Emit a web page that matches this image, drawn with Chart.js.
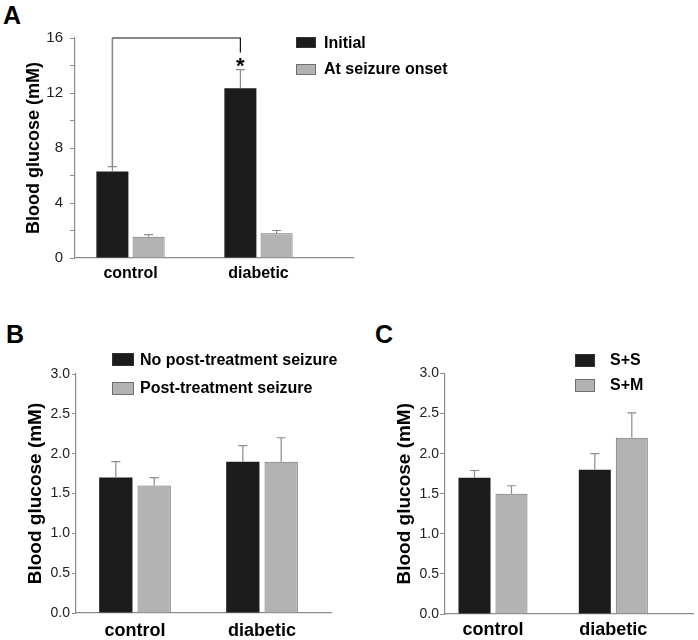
<!DOCTYPE html>
<html><head><meta charset="utf-8">
<script src="https://cdn.jsdelivr.net/npm/chart.js@4.4.0/dist/chart.umd.min.js"></script>
<style>
html,body{margin:0;padding:0;background:#fff;}
body{width:698px;height:640px;position:relative;overflow:hidden;font-family:"Liberation Sans",Arial,sans-serif;}
.cv{position:absolute;}
.panel{position:absolute;font-weight:bold;font-size:25px;color:#000;line-height:1;}
.leg{position:absolute;height:20px;display:flex;align-items:center;font-weight:bold;font-size:16px;color:#000;white-space:nowrap;}
.leg .box{box-sizing:border-box;flex:none;}
</style></head><body>
<div class="panel" style="left:3px;top:3px;">A</div>
<div class="panel" style="left:6px;top:322px;">B</div>
<div class="panel" style="left:375px;top:322px;">C</div>
<canvas id="ca" class="cv" width="360" height="295" style="left:0;top:0;"></canvas>
<canvas id="cb" class="cv" width="360" height="340" style="left:0;top:300px;"></canvas>
<canvas id="cc" class="cv" width="338" height="340" style="left:360px;top:300px;"></canvas>
<div id="legends"></div>
<script>
// ---------- data ----------
const categories = ['control', 'diabetic'];
const yTitle = 'Blood glucose (mM)';

// Panel A
const aSeries = ['Initial', 'At seizure onset'];
const aInitial = [6.3, 12.35];
const aInitialErr = [0.35, 1.35];
const aOnset = [1.55, 1.8];
const aOnsetErr = [0.15, 0.2];
const aYTicks = [0, 2, 4, 6, 8, 10, 12, 14, 16];
const aYLabels = [0, 4, 8, 12, 16];
const aSigMark = '*';
const aSigTop = 16;
const aSigRightEnd = 14.95;
const aSigStarAt = 13.45;

// Panel B
const bSeries = ['No post-treatment seizure', 'Post-treatment seizure'];
const bNoPost = [1.7, 1.9];
const bNoPostErr = [0.2, 0.2];
const bPost = [1.6, 1.9];
const bPostErr = [0.1, 0.3];

// Panel C
const cSeries = ['S+S', 'S+M'];
const cSS = [1.7, 1.8];
const cSSErr = [0.09, 0.2];
const cSM = [1.5, 2.2];
const cSMErr = [0.1, 0.31];

const bcYTicks = [0, 0.5, 1.0, 1.5, 2.0, 2.5, 3.0];

// ---------- styles ----------
const DARK = '#1c1c1c', DARK_BORDER = '#1c1c1c';
const LIGHT = '#b3b3b3', LIGHT_BORDER = '#6f6f6f';
const AXIS = '#8c8c8c', ERR = '#8c8c8c';
const FONT = "'Liberation Sans', Arial, sans-serif";
Chart.defaults.font.family = FONT;

const errorBars = {
  id: 'errorBars',
  afterDatasetsDraw(chart, args, opts) {
    const ctx = chart.ctx, ys = chart.scales.y;
    chart.data.datasets.forEach((ds, i) => {
      const meta = chart.getDatasetMeta(i);
      meta.data.forEach((el, j) => {
        const top = ys.getPixelForValue(ds.data[j].y + ds.errors[j]);
        ctx.save();
        ctx.strokeStyle = ERR;
        ctx.lineWidth = 1.2;
        ctx.beginPath();
        ctx.moveTo(el.x, el.y);
        ctx.lineTo(el.x, top);
        ctx.moveTo(el.x - 4.5, top);
        ctx.lineTo(el.x + 4.5, top);
        ctx.stroke();
        ctx.restore();
      });
    });
  }
};

const sigBracket = {
  id: 'sigBracket',
  afterDatasetsDraw(chart) {
    const ctx = chart.ctx, ys = chart.scales.y;
    const meta = chart.getDatasetMeta(0);
    const x1 = meta.data[0].x, x2 = meta.data[1].x;
    const yT = ys.getPixelForValue(aSigTop);
    const yL = ys.getPixelForValue(aInitial[0] + aInitialErr[0]);
    const yR = ys.getPixelForValue(aSigRightEnd);
    ctx.save();
    ctx.strokeStyle = '#8c8c8c';
    ctx.lineWidth = 1.6;
    ctx.beginPath(); ctx.moveTo(x1, yL); ctx.lineTo(x1, yT); ctx.stroke();
    ctx.strokeStyle = '#111';
    ctx.lineWidth = 1.2;
    ctx.beginPath(); ctx.moveTo(x1, yT); ctx.lineTo(x2, yT); ctx.lineTo(x2, yR); ctx.stroke();
    ctx.fillStyle = '#000';
    ctx.font = 'bold 22px ' + FONT;
    ctx.textAlign = 'center';
    ctx.textBaseline = 'alphabetic';
    ctx.fillText(aSigMark, x2, ys.getPixelForValue(aSigStarAt));
    ctx.restore();
  }
};

function makeChart(id, p) {
  const datasets = p.series.map((name, i) => ({
    label: name,
    data: p.values[i].map((v, j) => ({ x: j, y: v })),
    errors: p.errs[i],
    backgroundColor: i === 0 ? DARK : LIGHT,
    borderColor: i === 0 ? DARK_BORDER : LIGHT_BORDER,
    borderWidth: i === 0 ? 0 : 1,
    categoryPercentage: p.catPct,
    barPercentage: p.barPct
  }));
  return new Chart(document.getElementById(id), {
    type: 'bar',
    data: { datasets },
    options: {
      responsive: false,
      animation: false,
      devicePixelRatio: 1,
      layout: { padding: p.padding },
      plugins: { legend: { display: false }, tooltip: { enabled: false } },
      scales: {
        x: {
          type: 'linear',
          offset: false,
          min: p.xMin, max: p.xMax,
          afterBuildTicks: s => { s.ticks = categories.map((c, i) => ({ value: i })); },
          afterFit: s => { s.height = p.xHeight; s.paddingLeft = 0; s.paddingRight = 0; },
          grid: { display: false, offset: false, drawTicks: false },
          border: { display: true, color: AXIS, width: 1.2 },
          ticks: {
            autoSkip: false, maxRotation: 0,
            padding: p.xPad,
            color: '#000',
            font: { size: p.xFont, weight: 'bold' },
            callback: v => categories[v] !== undefined ? categories[v] : ''
          }
        },
        y: {
          min: 0, max: p.yTicks[p.yTicks.length - 1],
          afterBuildTicks: s => { s.ticks = p.yTicks.map(v => ({ value: v })); },
          afterFit: s => { s.width = p.yWidth; s.paddingTop = 0; s.paddingBottom = 0; },
          grid: { display: true, drawOnChartArea: false, drawTicks: true, tickLength: p.tickLen, color: AXIS, lineWidth: 1 },
          border: { display: true, color: AXIS, width: 1.2 },
          ticks: {
            padding: p.tickPad,
            color: '#222',
            font: { size: p.yFont },
            callback: v => p.yLabels ? (p.yLabels.includes(v) ? String(v) : '') : v.toFixed(1)
          },
          title: {
            display: true, text: yTitle, color: '#000',
            font: { size: p.titleSize, weight: 'bold' },
            padding: { top: p.titlePad, bottom: 0 }
          }
        }
      }
    },
    plugins: p.plugins
  });
}

makeChart('ca', {
  series: aSeries, values: [aInitial, aOnset], errs: [aInitialErr, aOnsetErr],
  xMin: -0.4336, xMax: 1.7383,
  padding: { left: 0, top: 38, right: 7, bottom: 0 },
  yWidth: 75, xHeight: 295 - 38 - 220, tickLen: 5, tickPad: 7,
  yTicks: aYTicks, yLabels: aYLabels, yFont: 15,
  xFont: 16, xPad: 6, titleSize: 18, titlePad: 23,
  catPct: 0.566, barPct: 0.884,
  plugins: [errorBars, sigBracket]
});

makeChart('cb', {
  series: bSeries, values: [bNoPost, bPost], errs: [bNoPostErr, bPostErr],
  xMin: -0.4646, xMax: 1.5433,
  padding: { left: 0, top: 74, right: 29, bottom: 0 },
  yWidth: 76, xHeight: 340 - 74 - 239, tickLen: 4, tickPad: 2,
  yTicks: bcYTicks, yLabels: null, yFont: 14,
  xFont: 18, xPad: 7, titleSize: 19, titlePad: 24,
  catPct: 0.604, barPct: 0.868,
  plugins: [errorBars]
});

makeChart('cc', {
  series: cSeries, values: [cSS, cSM], errs: [cSSErr, cSMErr],
  xMin: -0.399, xMax: 1.6625,
  padding: { left: 0, top: 73.5, right: 5, bottom: 0 },
  yWidth: 85, xHeight: 340 - 73.5 - 240.5, tickLen: 5, tickPad: 1,
  yTicks: bcYTicks, yLabels: null, yFont: 14,
  xFont: 18, xPad: 5.5, titleSize: 19, titlePad: 33,
  catPct: 0.615, barPct: 0.865,
  plugins: [errorBars]
});

// ---------- legends (HTML) ----------
const legendSpecs = [
  { names: aSeries, left: 296, centers: [42.5, 69], bw: 20, bh: 11, gap: 8 },
  { names: bSeries, left: 112, centers: [359.5, 388], bw: 22, bh: 13, gap: 6 },
  { names: cSeries, left: 575, centers: [360, 385], bw: 20, bh: 13, gap: 15 }
];
const lg = document.getElementById('legends');
legendSpecs.forEach(spec => {
  spec.names.forEach((name, i) => {
    const row = document.createElement('div');
    row.className = 'leg';
    row.style.left = spec.left + 'px';
    row.style.top = (spec.centers[i] - 10) + 'px';
    const box = document.createElement('span');
    box.className = 'box';
    box.style.width = spec.bw + 'px';
    box.style.height = spec.bh + 'px';
    box.style.marginRight = spec.gap + 'px';
    box.style.background = i === 0 ? DARK : LIGHT;
    box.style.border = '1px solid ' + (i === 0 ? '#333' : LIGHT_BORDER);
    const txt = document.createElement('span');
    txt.textContent = name;
    row.appendChild(box); row.appendChild(txt);
    lg.appendChild(row);
  });
});
</script>
</body></html>
